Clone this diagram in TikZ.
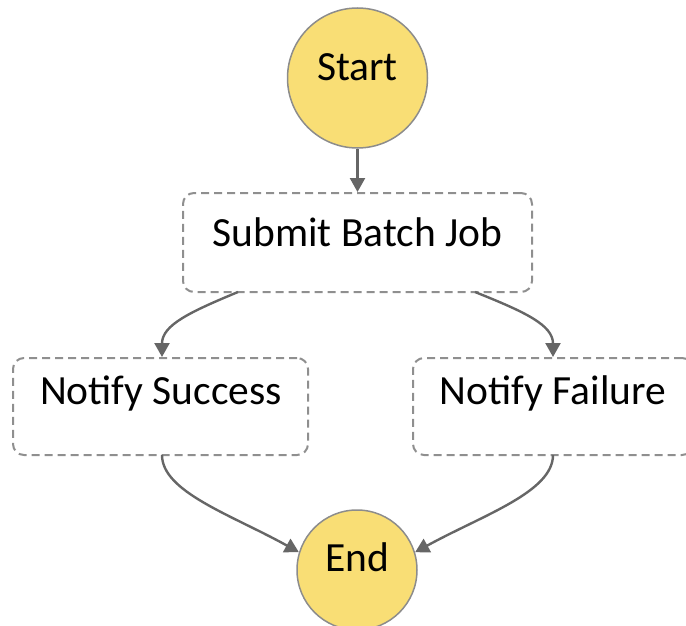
\documentclass[tikz,border=0pt]{standalone}
\usepackage{fontspec}
\setmainfont{Carlito}
\usetikzlibrary{arrows.meta}
\definecolor{stateyellow}{HTML}{F9DE75}
\definecolor{circleedge}{HTML}{8C8C8C}
\definecolor{dashgray}{HTML}{8F8F8F}
\definecolor{arrowgray}{HTML}{666666}
\tikzset{
  endpoint/.style={circle, draw=circleedge, line width=1.5pt, fill=stateyellow, inner sep=0pt},
  taskbox/.style={rectangle, rounded corners=11pt, draw=dashgray, line width=2pt, dash pattern=on 8pt off 5pt, inner sep=0pt},
  lbl/.style={font=\fontsize{41.5}{44}\selectfont, text=black, inner sep=0pt},
  flow/.style={draw=arrowgray, line width=2.4pt, -{Triangle[length=14pt,width=15pt]}}
}
\begin{document}
\begin{tikzpicture}[x=1pt,y=-1pt]
\useasboundingbox (0,0) rectangle (686,626);
\node[endpoint, minimum size=140pt] (start) at (357.5,78) {};
\node[lbl] (startlbl) at (357.5,67) {Start};
\node[taskbox, minimum width=349pt, minimum height=99pt] (submit) at (357.5,242.5) {};
\node[lbl] (submitlbl) at (357.5,232) {Submit Batch Job};
\node[taskbox, minimum width=295pt, minimum height=97pt] (success) at (160.5,406.5) {};
\node[lbl] (successlbl) at (161,393) {Notify Success};
\node[taskbox, minimum width=280pt, minimum height=97pt] (failure) at (553,406.5) {};
\node[lbl] (failurelbl) at (553,393) {Notify Failure};
\node[endpoint, minimum size=120pt] (end) at (357,570) {};
\node[lbl] (endlbl) at (357,557) {End};
\coordinate (s1) at (238,292);
\coordinate (s2) at (475,292);
\coordinate (n1) at (162,455);
\coordinate (n2) at (553,455);
\draw[flow] (start.south) -- (submit.north);
\draw[flow] (s1) .. controls (190,312) and (162,325) .. (success.north -| 162,0);
\draw[flow] (s2) .. controls (525,312) and (553,325) .. (failure.north);
\draw[flow] (n1) .. controls (162,492) and (232,515) .. (end.163);
\draw[flow] (n2) .. controls (553,492) and (483,515) .. (end.17);
\end{tikzpicture}
\end{document}
